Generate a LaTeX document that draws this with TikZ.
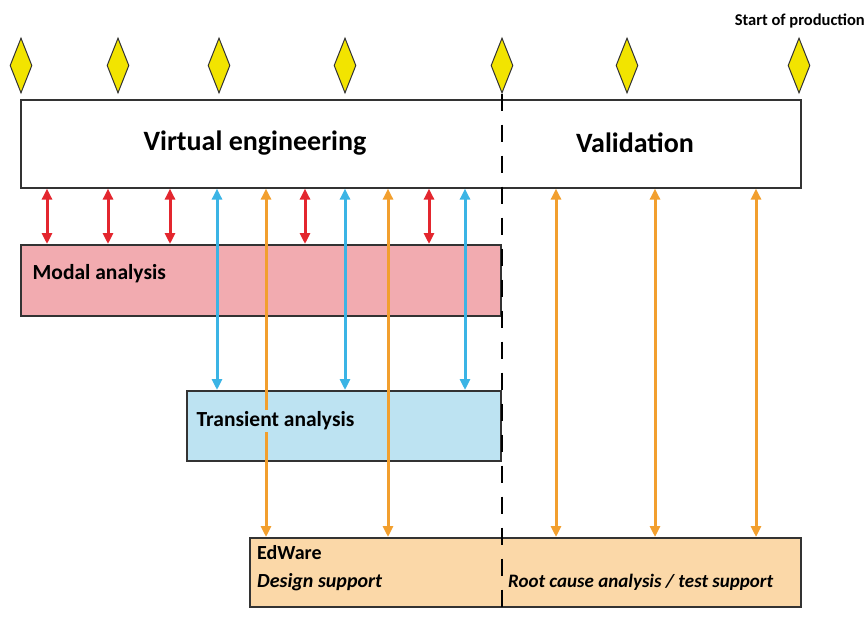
\documentclass[tikz,border=0pt]{standalone}
\usepackage{fontspec}
\setmainfont{Carlito}
\usetikzlibrary{shapes.geometric,arrows.meta}
\definecolor{msyellow}{HTML}{F2E400}
\definecolor{modalfill}{HTML}{F2ABB0}
\definecolor{transfill}{HTML}{BDE3F2}
\definecolor{edfill}{HTML}{FBD8A8}
\definecolor{redarr}{HTML}{E3262E}
\definecolor{bluearr}{HTML}{3BB4E5}
\definecolor{orangearr}{HTML}{F29F2E}
\definecolor{edge}{HTML}{333333}
\tikzset{
  milestone/.style={diamond, draw=edge, line width=1pt, fill=msyellow, inner sep=0pt,
    minimum width=22pt, minimum height=55pt, shape aspect=0.4},
  phasebox/.style={rectangle, draw=edge, line width=1.6pt, inner sep=0pt, anchor=north west},
  boxlabel/.style={font=\fontsize{21.5}{24}\selectfont\bfseries, inner sep=1.5pt, anchor=west},
  sublabel/.style={font=\fontsize{20}{22}\selectfont\bfseries, inner sep=0pt, anchor=west},
  bigtext/.style={font=\fontsize{28}{31}\selectfont\bfseries},
  link/.style={line width=3pt, {Triangle[length=11pt,width=10pt]}-{Triangle[length=11pt,width=10pt]}},
  gate/.style={line width=2.8pt, dash pattern=on 17pt off 14pt}
}
\begin{document}
\begin{tikzpicture}[x=1pt,y=-1pt]
\useasboundingbox (0,0) rectangle (865,619);

% phase boxes
\node[phasebox, fill=white, minimum width=780pt, minimum height=88pt] (ve) at (20,99) {};
\node[phasebox, fill=modalfill, minimum width=480pt, minimum height=71pt] (modal) at (20,244) {};
\node[phasebox, fill=transfill, minimum width=314pt, minimum height=70pt] (trans) at (186,390) {};
\node[phasebox, fill=edfill, minimum width=551pt, minimum height=69pt] (ed) at (249,537) {};

% milestones
\foreach \i/\x in {1/21,2/118,3/219,4/345,5/502,6/627,7/799}
  \node[milestone] (m\i) at (\x,65.5) {};
\node[font=\fontsize{16.5}{18}\selectfont\bfseries, anchor=east, inner sep=0pt] (sop) at (865,21) {Start of production};

% phase titles
\node[bigtext] (vetext) at (255,143) {Virtual engineering};
\node[bigtext] (valtext) at (635,143) {Validation};
\node[boxlabel] (modaltext) at (31,274) {Modal analysis};

% modal analysis links
\foreach \x in {47,108,170,305,429}
  \draw[link, redarr] (ve.south -| \x,0) -- (modal.north -| \x,0);
% transient analysis links
\foreach \x in {217,345,465}
  \draw[link, bluearr] (ve.south -| \x,0) -- (trans.north -| \x,0);
% EdWare links
\foreach \x in {266,388,556,655,756}
  \draw[link, orangearr] (ve.south -| \x,0) -- (ed.north -| \x,0);

\node[boxlabel, fill=transfill] (transtext) at (195,421) {Transient analysis};
\node[sublabel] (edtext) at (257,553) {EdWare};
\node[sublabel, font=\fontsize{20}{22}\selectfont\bfseries\itshape] (dstext) at (257,582) {Design support};
\node[sublabel, font=\fontsize{19}{21}\selectfont\bfseries\itshape] (rctext) at (508,582) {Root cause analysis / test support};

% boundary between virtual engineering and validation
\coordinate (gateend) at (502,619);
\draw[gate] (m5.south) -- (gateend);
\end{tikzpicture}
\end{document}
